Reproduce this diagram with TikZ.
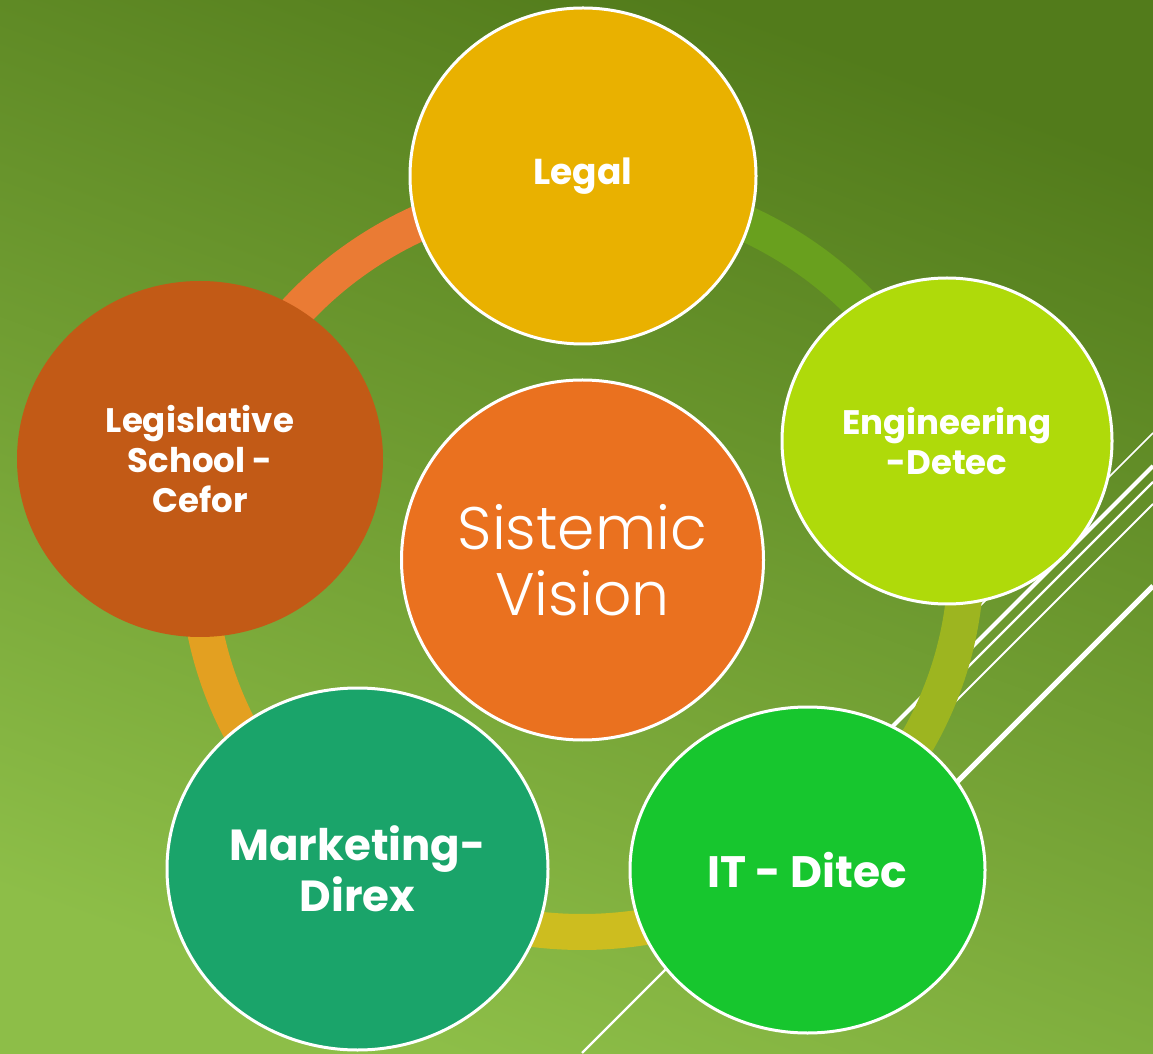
\documentclass[tikz,border=0pt]{standalone}
\usepackage{fontspec}
\setmainfont{Poppins}
\newfontfamily\lightfont{Poppins}[UprightFont=* Light]
\usetikzlibrary{shapes.geometric}
\definecolor{bgtop}{HTML}{527B1B}
\definecolor{bgbot}{HTML}{8DBE48}
\definecolor{segA}{HTML}{EA7B34}
\definecolor{segB}{HTML}{69A01E}
\definecolor{segC}{HTML}{9DB520}
\definecolor{segD}{HTML}{CDBD1F}
\definecolor{segE}{HTML}{E3A021}
\definecolor{cCenter}{HTML}{EA711F}
\definecolor{cLegal}{HTML}{E9B100}
\definecolor{cEng}{HTML}{AFDA0A}
\definecolor{cIT}{HTML}{17C62E}
\definecolor{cMkt}{HTML}{1AA46A}
\definecolor{cLeg}{HTML}{C25A16}
\tikzset{
  bubble/.style={ellipse, inner sep=0pt, text=white, align=center, draw=white, line width=3pt},
  band/.style={line width=36pt, line cap=butt},
  deco/.style={draw=white, line cap=butt},
  lbl/.style={font=\bfseries\fontsize{34}{40}\selectfont},
}
\begin{document}
\begin{tikzpicture}[x=1pt,y=1pt]
\useasboundingbox (0,0) rectangle (1153,1053);
\shade[top color=bgtop, bottom color=bgbot, shading angle=-20] (0,0) rectangle (1153,1053);
% decorative lines
\coordinate (l1a) at (968,435); \coordinate (l1b) at (1153,620);
\coordinate (l2a) at (860,294); \coordinate (l2b) at (1153,587);
\coordinate (l3a) at (582,0);   \coordinate (l3b) at (1153,571);
\coordinate (l4a) at (935,331); \coordinate (l4b) at (1153,549);
\coordinate (l5a) at (900,214); \coordinate (l5b) at (1153,467);
\draw[deco, line width=1.6pt] (l1a) -- (l1b);
\draw[deco, line width=4pt] (l2a) -- (l2b);
\draw[deco, line width=2.2pt] (l3a) -- (l3b);
\draw[deco, line width=2pt] (l4a) -- (l4b);
\draw[deco, line width=5pt] (l5a) -- (l5b);
% ring
\coordinate (rc) at (582,493);
\draw[band, segA] (rc) ++(162:384 and 372) arc[start angle=162, end angle=90, x radius=384, y radius=372];
\draw[band, segB] (rc) ++(90:384 and 372) arc[start angle=90, end angle=18, x radius=384, y radius=372];
\draw[band, segC] (rc) ++(18:384 and 372) arc[start angle=18, end angle=-54, x radius=384, y radius=372];
\draw[band, segD] (rc) ++(-54:384 and 372) arc[start angle=-54, end angle=-126, x radius=384, y radius=372];
\draw[band, segE] (rc) ++(-126:384 and 372) arc[start angle=-126, end angle=-198, x radius=384, y radius=372];
% nodes
\node[bubble, fill=cCenter, minimum width=362, minimum height=360, font=\lightfont\fontsize{60}{66}\selectfont] (center) at (582.5,493)
  {Sistemic\\Vision};
\node[bubble, fill=cLegal, minimum width=346, minimum height=336, font=\bfseries\fontsize{36}{40}\selectfont] (legal) at (583,877) {Legal};
\node[bubble, fill=cEng, minimum width=330, minimum height=326, lbl] (eng) at (947,612) {Engineering\\-Detec};
\node[bubble, fill=cIT, minimum width=355, minimum height=326, font=\bfseries\fontsize{44}{52}\selectfont] (it) at (807.5,183) {IT - Ditec};
\node[bubble, fill=cMkt, minimum width=381, minimum height=362, font=\bfseries\fontsize{43.5}{51}\selectfont] (mkt) at (357.5,184) {Marketing-\\Direx};
\node[bubble, draw=none, fill=cLeg, minimum width=366, minimum height=356, lbl] (leg) at (200,594) {Legislative\\School -\\Cefor};
\end{tikzpicture}
\end{document}
